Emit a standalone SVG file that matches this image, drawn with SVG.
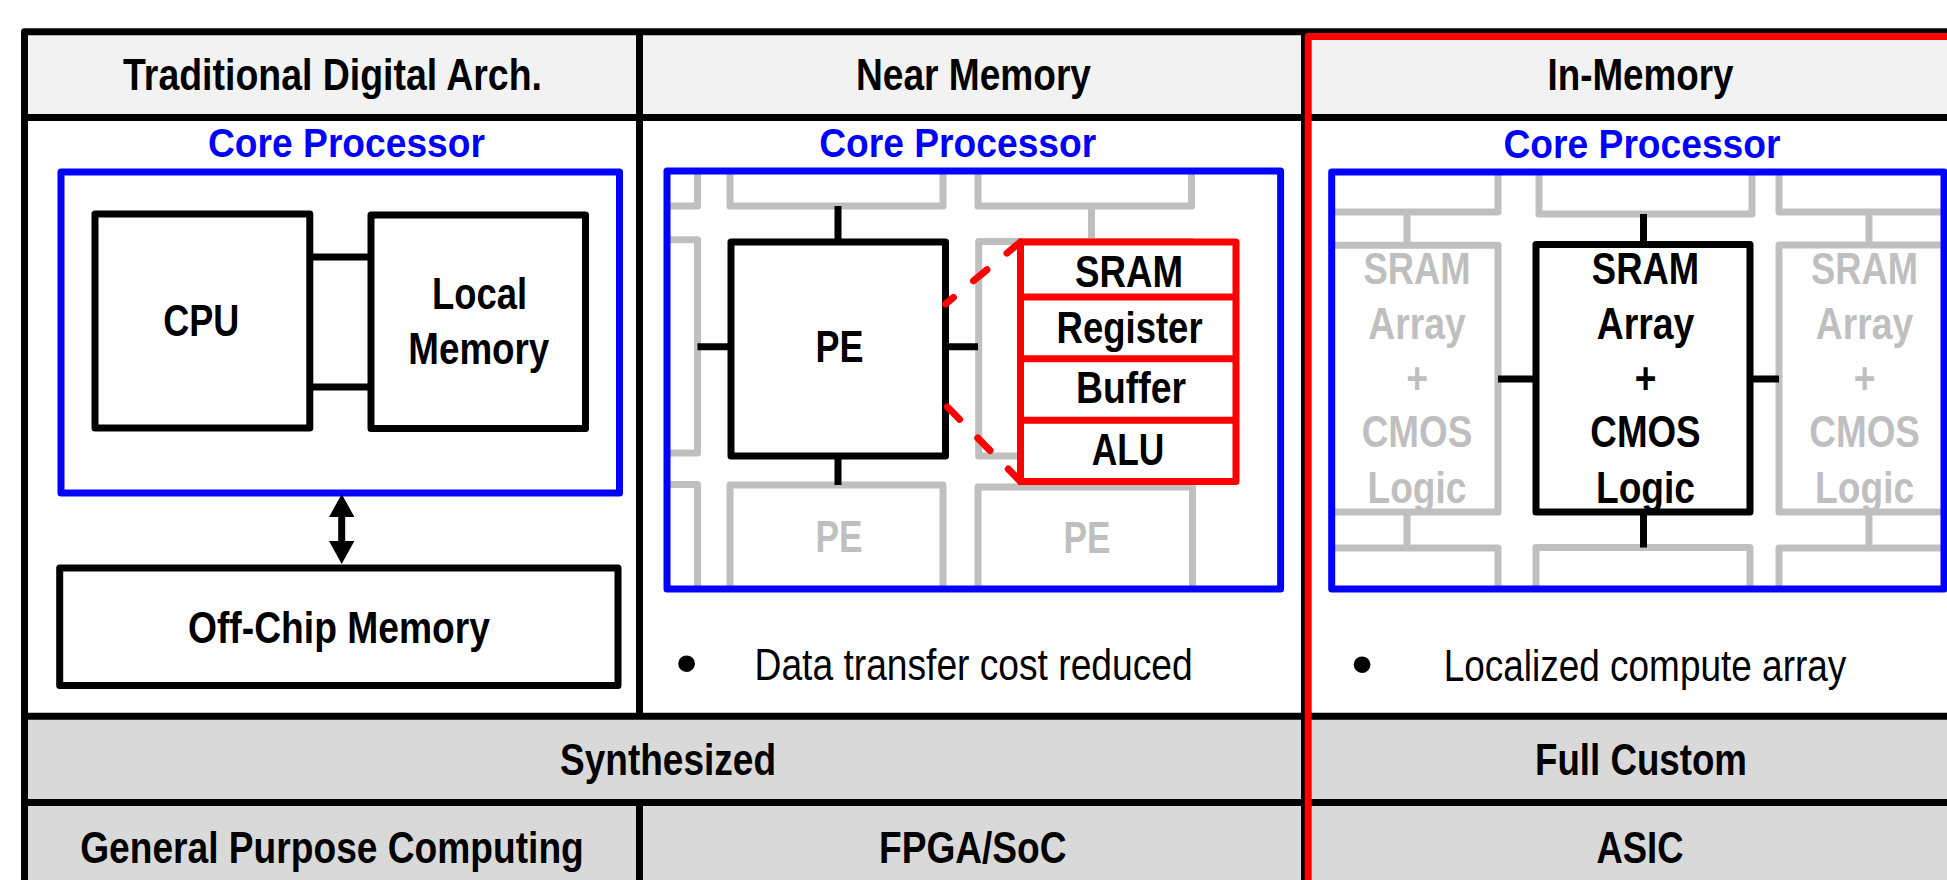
<svg xmlns="http://www.w3.org/2000/svg" width="1947" height="880" viewBox="0 0 1947 880">
<defs>
<style>
.t{font-family:'Liberation Sans Narrow','Arial Narrow','Liberation Sans',Arial,sans-serif;font-size:45px;font-weight:bold;text-anchor:middle;fill:#000}
.reg{font-weight:normal;text-anchor:start}
.bul{font-family:'Liberation Sans',Arial,sans-serif;font-weight:normal;font-size:62px;text-anchor:middle;fill:#000}
.cp{fill:#0000ff;font-size:41px}
.g{fill:#bfbfbf}
.frame{stroke:#000;stroke-width:7;fill:none;stroke-linejoin:round}
.box{fill:#fff;stroke:#000;stroke-width:7;stroke-linejoin:round}
.blue{fill:none;stroke:#0000ff;stroke-width:7;stroke-linejoin:round}
.tile{fill:#fff;stroke:#bfbfbf;stroke-width:7;stroke-linejoin:round}
.gline{stroke:#bfbfbf;stroke-width:7;fill:none}
.bline{stroke:#000;stroke-width:7;fill:none}
.red{fill:#fff;stroke:#ff0000;stroke-width:7;stroke-linejoin:round}
.rline{stroke:#ff0000;stroke-width:7;fill:none}
.dash{stroke:#ff0000;stroke-width:7;stroke-dasharray:17.5 26;stroke-linecap:round;fill:none}
</style>
<marker id="ah" viewBox="0 0 23 25.4" markerWidth="23" markerHeight="25.4" refX="3" refY="12.7" orient="auto-start-reverse" markerUnits="userSpaceOnUse"><path d="M0,0 L23,12.7 L0,25.4 z" fill="#000"/></marker>
<clipPath id="clipNear"><rect x="667" y="171" width="613.6" height="418"/></clipPath>
<clipPath id="clipIn"><rect x="1331.7" y="172" width="612.3" height="417"/></clipPath>
</defs>

<g id="table">
<rect x="24.5" y="31.7" width="1925" height="85.8" fill="#f2f2f2"/>
<rect x="24.5" y="716.3" width="1925" height="170" fill="#d9d9d9"/>
<path class="frame" d="M24.5,885V31.7H1950"/>
<path class="frame" d="M21,117.5H1950M21,716.3H1950M21,802.5H1950"/>
<path class="frame" d="M639.5,31.7V716.3M639.5,802.5V885M1304.5,31.7V885"/>
</g>

<g id="header-traditional"><text class="t" x="332.5" y="90" textLength="419" lengthAdjust="spacingAndGlyphs">Traditional Digital Arch.</text></g>
<g id="header-near"><text class="t" x="973.5" y="90" textLength="235" lengthAdjust="spacingAndGlyphs">Near Memory</text></g>
<g id="header-in"><text class="t" x="1640.5" y="89.5" textLength="186" lengthAdjust="spacingAndGlyphs">In-Memory</text></g>

<g id="core-traditional">
<text class="t cp" x="346.5" y="157.3" textLength="277" lengthAdjust="spacingAndGlyphs">Core Processor</text>
<rect class="blue" x="61" y="172" width="558.5" height="321"/>
</g>
<g id="cpu"><rect class="box" x="95" y="214" width="214.8" height="214"/><text class="t" x="201.3" y="336" textLength="76" lengthAdjust="spacingAndGlyphs">CPU</text></g>
<g id="local-memory"><rect class="box" x="371" y="215" width="214.5" height="213.5"/>
<text class="t" x="479.5" y="309.3" textLength="95" lengthAdjust="spacingAndGlyphs">Local</text>
<text class="t" x="478.8" y="364" textLength="141" lengthAdjust="spacingAndGlyphs">Memory</text></g>
<g id="off-chip-memory"><rect class="box" x="59.7" y="568" width="558.3" height="117.5"/><text class="t" x="339" y="642.7" textLength="302" lengthAdjust="spacingAndGlyphs">Off-Chip Memory</text></g>

<g id="core-near">
<text class="t cp" x="957.7" y="157.3" textLength="277" lengthAdjust="spacingAndGlyphs">Core Processor</text>
<g clip-path="url(#clipNear)">
<rect class="tile" x="484.5" y="-9" width="213" height="215"/>
<rect class="tile" x="730" y="-9" width="213" height="215"/>
<rect class="tile" x="978" y="-9" width="213.5" height="215"/>
<rect class="tile" x="484.5" y="239.7" width="213" height="213.3"/>
<rect class="tile" x="978.7" y="241.5" width="213" height="214.5"/>
<rect class="tile" x="484.5" y="484.5" width="213" height="215"/>
<rect class="tile" x="730" y="485" width="213" height="215"/>
<rect class="tile" x="978" y="487" width="214.5" height="215"/>
<text class="t g" x="839" y="552" textLength="47" lengthAdjust="spacingAndGlyphs">PE</text>
<text class="t g" x="1087" y="553.3" textLength="47" lengthAdjust="spacingAndGlyphs">PE</text>
</g>
<rect class="blue" x="667" y="171" width="613.6" height="418"/>
</g>
<g id="pe"><rect class="box" x="731" y="242" width="214.5" height="214"/><text class="t" x="839.5" y="362.3" textLength="48" lengthAdjust="spacingAndGlyphs">PE</text></g>

<g id="core-in">
<text class="t cp" x="1642" y="157.8" textLength="277" lengthAdjust="spacingAndGlyphs">Core Processor</text>
<g clip-path="url(#clipIn)">
<rect class="tile" x="1285" y="-3" width="213" height="215"/>
<rect class="tile" x="1539" y="-1" width="213" height="215"/>
<rect class="tile" x="1779" y="-3" width="213" height="215"/>
<rect class="tile" x="1285" y="245.3" width="213" height="266.7"/>
<rect class="tile" x="1779" y="245" width="213" height="267"/>
<rect class="tile" x="1285" y="548" width="213" height="215"/>
<rect class="tile" x="1536" y="547.5" width="214" height="215"/>
<rect class="tile" x="1779" y="548" width="213" height="215"/>
<text class="t g" x="1417" y="284" textLength="107" lengthAdjust="spacingAndGlyphs">SRAM</text>
<text class="t g" x="1417" y="339" textLength="97.5" lengthAdjust="spacingAndGlyphs">Array</text>
<text class="t g" x="1417" y="393.5" textLength="21.7" lengthAdjust="spacingAndGlyphs">+</text>
<text class="t g" x="1417" y="447.3" textLength="110.5" lengthAdjust="spacingAndGlyphs">CMOS</text>
<text class="t g" x="1417" y="502.7" textLength="99" lengthAdjust="spacingAndGlyphs">Logic</text>
<text class="t g" x="1864.6" y="284" textLength="107" lengthAdjust="spacingAndGlyphs">SRAM</text>
<text class="t g" x="1864.6" y="339" textLength="97.5" lengthAdjust="spacingAndGlyphs">Array</text>
<text class="t g" x="1864.6" y="393.5" textLength="21.7" lengthAdjust="spacingAndGlyphs">+</text>
<text class="t g" x="1864.6" y="447.3" textLength="110.5" lengthAdjust="spacingAndGlyphs">CMOS</text>
<text class="t g" x="1864.6" y="502.7" textLength="99" lengthAdjust="spacingAndGlyphs">Logic</text>
</g>
<rect class="blue" x="1331.7" y="172" width="612.3" height="417"/>
</g>
<g id="cim-center"><rect class="box" x="1536" y="244.5" width="214" height="267.5"/>
<text class="t" x="1645.5" y="284" textLength="107.3" lengthAdjust="spacingAndGlyphs">SRAM</text>
<text class="t" x="1645.5" y="339" textLength="97.7" lengthAdjust="spacingAndGlyphs">Array</text>
<text class="t" x="1645.5" y="393.5" textLength="21.7" lengthAdjust="spacingAndGlyphs">+</text>
<text class="t" x="1645.5" y="447.3" textLength="110.3" lengthAdjust="spacingAndGlyphs">CMOS</text>
<text class="t" x="1645.5" y="502.7" textLength="99" lengthAdjust="spacingAndGlyphs">Logic</text>
</g>

<g id="connectors">
<path class="bline" d="M309.8,257H371M309.8,387H371"/>
<line x1="341.7" y1="514" x2="341.7" y2="544" stroke="#000" stroke-width="7" marker-start="url(#ah)" marker-end="url(#ah)"/>
<path class="bline" d="M838,206V242M838,456V485M697.5,346.7H731M945.5,346.7H978"/>
<path class="gline" d="M1091.5,206V241.5"/>
<path class="dash" d="M1020.5,242L945.5,304"/>
<path class="dash" d="M1020.5,481.5L945.5,405"/>
<path class="bline" d="M1643.5,214V244.5M1643.5,512V547.5M1498,379H1536M1750,379H1779"/>
<path class="gline" d="M1407,212V245.3M1407,512V548M1869,212V245M1869,512V548"/>
</g>

<g id="memory-stack">
<rect class="red" x="1020.5" y="242" width="215.5" height="239.5"/>
<path class="rline" d="M1020.5,297H1236M1020.5,358.7H1236M1020.5,420.3H1236"/>
<text class="t" x="1129" y="286.7" textLength="108" lengthAdjust="spacingAndGlyphs">SRAM</text>
<text class="t" x="1129.6" y="342.7" textLength="146" lengthAdjust="spacingAndGlyphs">Register</text>
<text class="t" x="1131" y="403.3" textLength="110" lengthAdjust="spacingAndGlyphs">Buffer</text>
<text class="t" x="1128" y="465" textLength="72.6" lengthAdjust="spacingAndGlyphs">ALU</text>
</g>

<g id="note-near"><text class="bul" x="686.5" y="684">•</text><text class="t reg" x="754.6" y="680" textLength="438" lengthAdjust="spacingAndGlyphs">Data transfer cost reduced</text></g>
<g id="note-in"><text class="bul" x="1362" y="685">•</text><text class="t reg" x="1443.7" y="680.5" textLength="402.6" lengthAdjust="spacingAndGlyphs">Localized compute array</text></g>

<g id="row-synthesized"><text class="t" x="668" y="775" textLength="216" lengthAdjust="spacingAndGlyphs">Synthesized</text></g>
<g id="row-full-custom"><text class="t" x="1641" y="775" textLength="212" lengthAdjust="spacingAndGlyphs">Full Custom</text></g>
<g id="cell-general"><text class="t" x="332" y="863.3" textLength="503.6" lengthAdjust="spacingAndGlyphs">General Purpose Computing</text></g>
<g id="cell-fpga"><text class="t" x="972.8" y="863.3" textLength="187.5" lengthAdjust="spacingAndGlyphs">FPGA/SoC</text></g>
<g id="cell-asic"><text class="t" x="1640" y="863.3" textLength="87" lengthAdjust="spacingAndGlyphs">ASIC</text></g>

<g id="in-memory-frame"><path class="rline" d="M1308.2,885V36.5H1950" stroke-width="7.6" stroke-linejoin="round"/></g>
</svg>
